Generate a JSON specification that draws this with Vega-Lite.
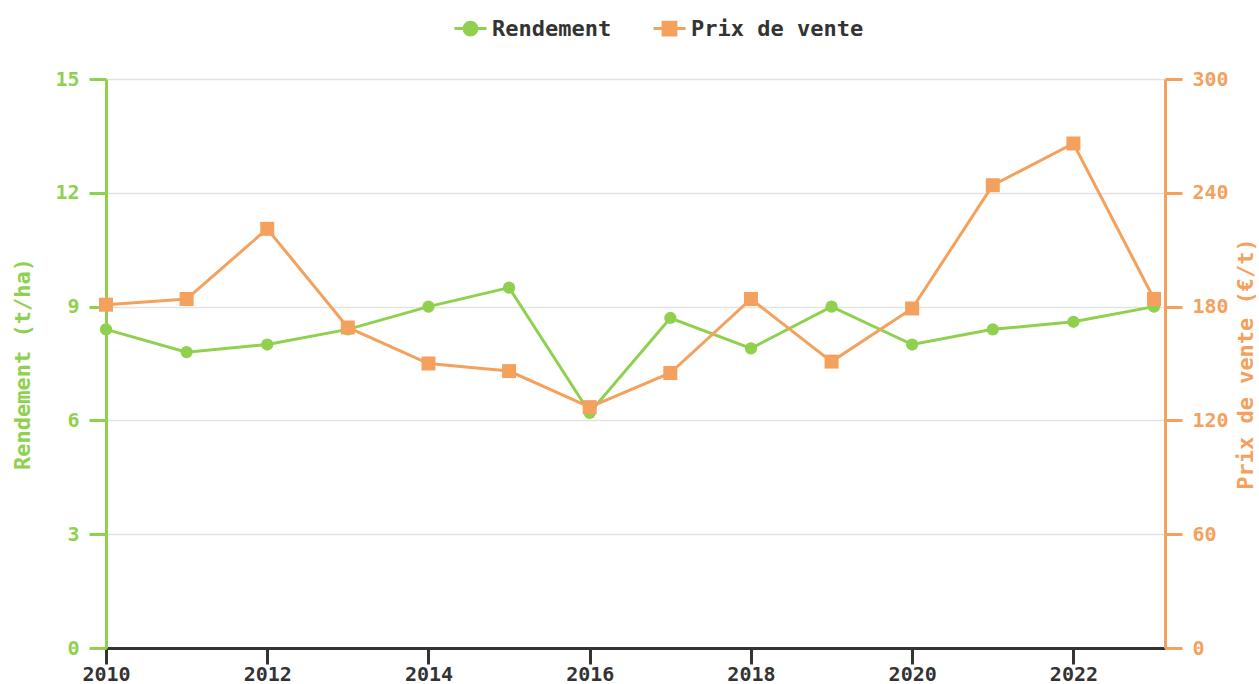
{
  "$schema": "https://vega.github.io/schema/vega-lite/v6.json",
  "width": 1059,
  "height": 569,
  "autosize": {"type": "none"},
  "padding": {"top": 79, "left": 106, "right": 94, "bottom": 36},
  "background": "white",
  "config": {
    "view": {"stroke": null},
    "font": "DejaVu Sans Mono",
    "axis": {"labelFont": "DejaVu Sans Mono", "titleFont": "DejaVu Sans Mono", "labelFontWeight": "bold", "titleFontWeight": "bold"},
    "legend": {"labelFont": "DejaVu Sans Mono", "labelFontWeight": "bold"}
  },
  "data": {
    "values": [
      {"year": 2010, "series": "Rendement", "value": 8.4},
      {"year": 2011, "series": "Rendement", "value": 7.8},
      {"year": 2012, "series": "Rendement", "value": 8.0},
      {"year": 2013, "series": "Rendement", "value": 8.4},
      {"year": 2014, "series": "Rendement", "value": 9.0},
      {"year": 2015, "series": "Rendement", "value": 9.5},
      {"year": 2016, "series": "Rendement", "value": 6.2},
      {"year": 2017, "series": "Rendement", "value": 8.7},
      {"year": 2018, "series": "Rendement", "value": 7.9},
      {"year": 2019, "series": "Rendement", "value": 9.0},
      {"year": 2020, "series": "Rendement", "value": 8.0},
      {"year": 2021, "series": "Rendement", "value": 8.4},
      {"year": 2022, "series": "Rendement", "value": 8.6},
      {"year": 2023, "series": "Rendement", "value": 9.0},
      {"year": 2010, "series": "Prix de vente", "value": 181},
      {"year": 2011, "series": "Prix de vente", "value": 184},
      {"year": 2012, "series": "Prix de vente", "value": 221},
      {"year": 2013, "series": "Prix de vente", "value": 169},
      {"year": 2014, "series": "Prix de vente", "value": 150},
      {"year": 2015, "series": "Prix de vente", "value": 146},
      {"year": 2016, "series": "Prix de vente", "value": 127},
      {"year": 2017, "series": "Prix de vente", "value": 145},
      {"year": 2018, "series": "Prix de vente", "value": 184},
      {"year": 2019, "series": "Prix de vente", "value": 151},
      {"year": 2020, "series": "Prix de vente", "value": 179},
      {"year": 2021, "series": "Prix de vente", "value": 244},
      {"year": 2022, "series": "Prix de vente", "value": 266},
      {"year": 2023, "series": "Prix de vente", "value": 184}
    ]
  },
  "encoding": {
    "x": {
      "field": "year", "type": "quantitative",
      "scale": {"domain": [2010, 2023.136], "nice": false, "zero": false},
      "axis": {
        "title": null, "format": "d", "values": [2010, 2012, 2014, 2016, 2018, 2020, 2022],
        "grid": false, "domainColor": "#333333", "domainWidth": 3,
        "tickColor": "#333333", "tickWidth": 3, "tickSize": 16,
        "labelColor": "#333333", "labelFontSize": 20, "labelPadding": 0, "labelFlush": false
      }
    },
    "color": {
      "field": "series", "type": "nominal",
      "scale": {"domain": ["Rendement", "Prix de vente"], "range": ["#8fd14f", "#f4a15d"]},
      "legend": {
        "title": null, "orient": "none", "direction": "horizontal",
        "legendX": 347, "legendY": -68,
        "labelFontSize": 22, "labelColor": "#333333", "labelLimit": 400,
        "symbolSize": 1024, "symbolStrokeWidth": 3, "columnPadding": 35, "labelOffset": 4,
        "encode": {
          "symbols": {
            "update": {
              "shape": {"signal": "datum.value == 'Rendement' ? 'M-1,0H1M-0.4,0A0.4,0.4 0 1,1 0.4,0A0.4,0.4 0 1,1 -0.4,0Z' : 'M-1,0H1M-0.4,-0.4H0.4V0.4H-0.4Z'"},
              "fill": {"signal": "datum.value == 'Rendement' ? '#8fd14f' : '#f4a15d'"},
              "fillOpacity": {"value": 1}
            }
          }
        }
      }
    }
  },
  "layer": [
    {
      "transform": [{"filter": "datum.series == 'Rendement'"}],
      "mark": {"type": "line", "strokeWidth": 3, "point": {"filled": true, "size": 150, "shape": "circle", "opacity": 1}},
      "encoding": {
        "y": {
          "field": "value", "type": "quantitative",
          "scale": {"domain": [0, 15], "nice": false},
          "axis": {
            "title": "Rendement (t/ha)", "titleColor": "#8fd14f", "titleFontSize": 22, "titlePadding": 20,
            "values": [0, 3, 6, 9, 12, 15], "orient": "left",
            "grid": true, "gridColor": "#e3e3e3", "gridWidth": 1.5,
            "domainColor": "#8fd14f", "domainWidth": 3, "tickColor": "#8fd14f", "tickWidth": 3, "tickSize": 17,
            "labelColor": "#8fd14f", "labelFontSize": 20, "labelPadding": 10
          }
        }
      }
    },
    {
      "transform": [{"filter": "datum.series == 'Prix de vente'"}],
      "mark": {"type": "line", "strokeWidth": 3, "point": {"filled": true, "size": 196, "shape": "square", "opacity": 1}},
      "encoding": {
        "y": {
          "field": "value", "type": "quantitative",
          "scale": {"domain": [0, 300], "nice": false},
          "axis": {
            "title": "Prix de vente (€/t)", "titleColor": "#f4a15d", "titleFontSize": 22, "titlePadding": 7, "titleAngle": 270, "titleBaseline": "top",
            "values": [0, 60, 120, 180, 240, 300], "orient": "right",
            "grid": false,
            "domainColor": "#f4a15d", "domainWidth": 3, "tickColor": "#f4a15d", "tickWidth": 3, "tickSize": 17,
            "labelColor": "#f4a15d", "labelFontSize": 20, "labelPadding": 10
          }
        }
      }
    }
  ],
  "resolve": {"scale": {"y": "independent"}}
}
